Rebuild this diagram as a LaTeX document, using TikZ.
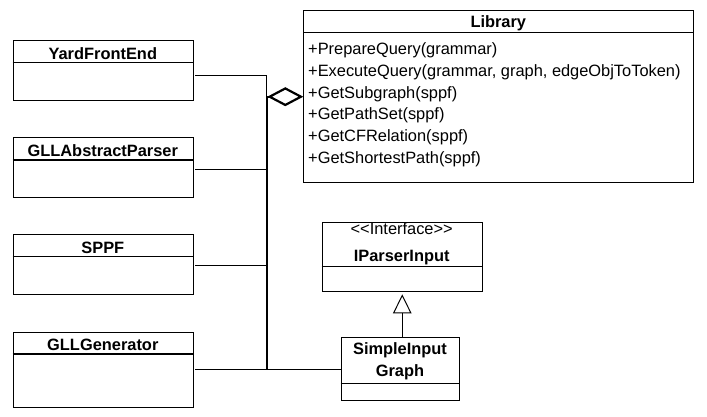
\documentclass[tikz,border=0pt]{standalone}
\usepackage{fontspec}
\setmainfont{Liberation Sans}
\usetikzlibrary{arrows.meta}
\begin{document}
\begin{tikzpicture}[x=1pt,y=-1pt,
  box/.style={draw, line width=1.1pt, inner sep=0pt, anchor=north west},
  hdr/.style={line width=1.1pt},
  ttl/.style={font=\fontsize{16.4}{19}\selectfont\bfseries, anchor=base, inner sep=0pt},
  stereo/.style={font=\fontsize{16.4}{19}\selectfont, anchor=base, inner sep=0pt},
  txt/.style={font=\fontsize{16.4}{19}\selectfont, anchor=base west, inner sep=0pt},
  conn/.style={line width=1pt},
  thickconn/.style={line width=2.2pt}]
\useasboundingbox (0,0) rectangle (707,416);
\fill[white] (0,0) rectangle (707,416);

% classes
\node[box, minimum width=180.3pt, minimum height=60pt] (yfe) at (12.7,40) {};
\draw[hdr] ([yshift=-22.7pt]yfe.north west) -- ([yshift=-22.7pt]yfe.north east);
\node[ttl] (yfet) at (102.8,59.3) {YardFrontEnd};

\node[box, minimum width=180.3pt, minimum height=59.4pt] (gap) at (12.7,137.3) {};
\draw[hdr] ([yshift=-22.7pt]gap.north west) -- ([yshift=-22.7pt]gap.north east);
\node[ttl] (gapt) at (102.8,156) {GLLAbstractParser};

\node[box, minimum width=180.3pt, minimum height=60pt] (sppf) at (12.7,234) {};
\draw[hdr] ([yshift=-22.7pt]sppf.north west) -- ([yshift=-22.7pt]sppf.north east);
\node[ttl] (sppft) at (102.8,253) {SPPF};

\node[box, minimum width=180.3pt, minimum height=75pt] (gllg) at (12.7,331.7) {};
\draw[hdr] ([yshift=-22.3pt]gllg.north west) -- ([yshift=-22.3pt]gllg.north east);
\node[ttl] (gllgt) at (102.8,350.5) {GLLGenerator};

\node[box, minimum width=390pt, minimum height=171.7pt] (lib) at (303.3,10) {};
\draw[hdr] ([yshift=-22.3pt]lib.north west) -- ([yshift=-22.3pt]lib.north east);
\node[ttl] (libt) at (498.3,27.5) {Library};
\node[txt] (m1) at (308,54.5) {+PrepareQuery(grammar)};
\node[txt] (m2) at (308,76.3) {+ExecuteQuery(grammar, graph, edgeObjToToken)};
\node[txt] (m3) at (308,98.1) {+GetSubgraph(sppf)};
\node[txt] (m4) at (308,119.9) {+GetPathSet(sppf)};
\node[txt] (m5) at (308,141.7) {+GetCFRelation(sppf)};
\node[txt] (m6) at (308,163.5) {+GetShortestPath(sppf)};

\node[box, minimum width=160pt, minimum height=69.3pt] (ipi) at (321.7,221.7) {};
\draw[hdr] ([yshift=-45pt]ipi.north west) -- ([yshift=-45pt]ipi.north east);
\node[stereo] (ipis) at (401.7,234) {<{}<Interface>{}>};
\node[ttl] (ipit) at (401.7,261.7) {IParserInput};

\node[box, minimum width=118.6pt, minimum height=63.3pt] (sig) at (340.7,336.7) {};
\draw[hdr] ([yshift=-46.6pt]sig.north west) -- ([yshift=-46.6pt]sig.north east);
\node[ttl] (sigt1) at (400,354.3) {SimpleInput};
\node[ttl] (sigt2) at (400,376.7) {Graph};

% connectors
\coordinate (jn) at (266.7,96.7);
\coordinate (yfeout) at (195,75);
\coordinate (gapout) at (195,169);
\coordinate (sppfout) at (195,265.7);
\coordinate (gllgout) at (195,369.3);

\draw[conn] (yfeout) -| (jn);
\draw[conn] (gapout) -- (gapout -| jn);
\draw[conn] (sppfout) -- (sppfout -| jn);
\draw[conn] (gllgout) -- (gllgout -| sig.west);
\draw[thickconn] (jn) -- (jn |- gllgout);
\draw[thickconn, -{Diamond[open,length=36pt,width=19pt]}] (jn) -- (jn -| lib.west);
\draw[conn, -{Triangle[open,length=19pt,width=18.6pt]}] (sig.north -| ipi.south) -- ([yshift=-2.3pt]ipi.south);
\end{tikzpicture}
\end{document}
